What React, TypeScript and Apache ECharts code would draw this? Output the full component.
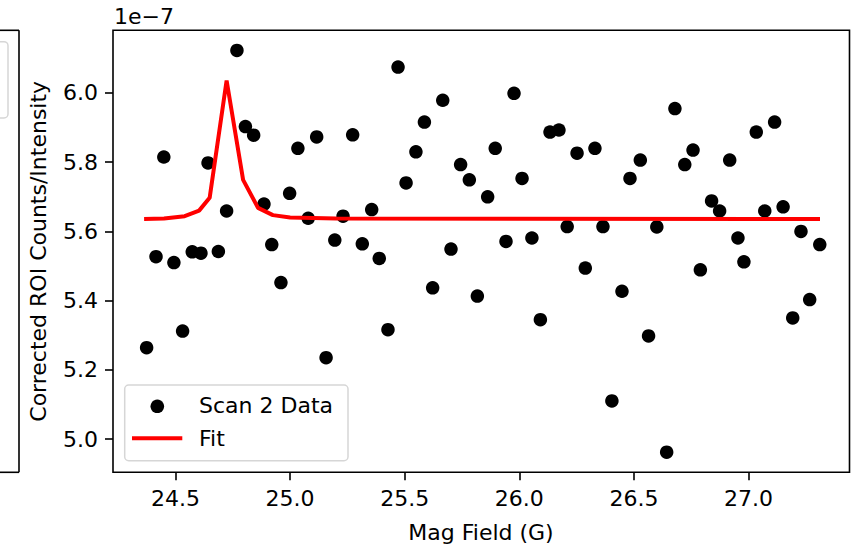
import React, { useEffect, useRef } from "react";
import * as echarts from "echarts";

// Scan 2 data, y in units of 1e-7
const SCAN_X = [
  24.374, 24.415, 24.449, 24.493, 24.531, 24.573, 24.611, 24.642, 24.687, 24.723,
  24.768, 24.805, 24.841, 24.886, 24.920, 24.960, 24.998, 25.034, 25.079, 25.116,
  25.157, 25.195, 25.231, 25.273, 25.315, 25.356, 25.389, 25.427, 25.471, 25.506,
  25.549, 25.586, 25.622, 25.666, 25.702, 25.744, 25.782, 25.817, 25.862, 25.895,
  25.942, 25.977, 26.012, 26.055, 26.092, 26.134, 26.173, 26.209, 26.252, 26.288,
  26.330, 26.365, 26.404, 26.448, 26.483, 26.528, 26.564, 26.600, 26.643, 26.679,
  26.722, 26.758, 26.790, 26.839, 26.874, 26.918, 26.954, 26.980, 27.034, 27.071,
  27.114, 27.151, 27.193, 27.229, 27.267, 27.311,
];
const SCAN_Y = [
  5.264, 5.527, 5.815, 5.510, 5.312, 5.541, 5.537, 5.798, 5.542, 5.659,
  6.123, 5.903, 5.878, 5.679, 5.562, 5.452, 5.710, 5.840, 5.638, 5.873,
  5.235, 5.575, 5.644, 5.879, 5.564, 5.663, 5.522, 5.316, 6.075, 5.740,
  5.830, 5.916, 5.437, 5.979, 5.549, 5.793, 5.749, 5.413, 5.700, 5.840,
  5.571, 5.999, 5.753, 5.581, 5.345, 5.887, 5.893, 5.614, 5.826, 5.494,
  5.840, 5.614, 5.110, 5.427, 5.753, 5.806, 5.298, 5.613, 4.962, 5.955,
  5.793, 5.835, 5.489, 5.688, 5.659, 5.806, 5.581, 5.512, 5.887, 5.659,
  5.916, 5.671, 5.350, 5.600, 5.403, 5.562,
];

// Fit curve vertices
const FIT_X = [24.363, 24.45, 24.54, 24.603, 24.649, 24.723, 24.795, 24.86, 24.925, 25.0, 25.2, 27.312];
const FIT_Y = [5.636, 5.637, 5.644, 5.660, 5.697, 6.036, 5.749, 5.668, 5.647, 5.640, 5.637, 5.636];

const X_TICKS = [24.5, 25.0, 25.5, 26.0, 26.5, 27.0];
const Y_TICKS = [5.0, 5.2, 5.4, 5.6, 5.8, 6.0];

const X_MIN = 24.2273;
const X_MAX = 27.4407;
const Y_MIN = 4.9038;
const Y_MAX = 6.1812;

const FONT = "DejaVu Sans";

export default function App() {
  const ref = useRef<HTMLDivElement>(null);

  useEffect(() => {
    if (!ref.current) return;
    const chart = echarts.init(ref.current, undefined, { renderer: "svg" });

    const scatterData = SCAN_X.map((x, i) => [x, SCAN_Y[i]]);
    const fitData = FIT_X.map((x, i) => [x, FIT_Y[i]]);

    chart.setOption({
      animation: false,
      backgroundColor: "#ffffff",
      grid: {
        left: 113,
        right: 1.5,
        top: 30.3,
        bottom: 74.7,
        show: true,
        borderColor: "#000",
        borderWidth: 1.6,
        backgroundColor: "transparent",
      },
      xAxis: {
        type: "value",
        min: X_MIN,
        max: X_MAX,
        splitLine: { show: false },
        axisLine: { show: false },
        axisTick: {
          show: true,
          customValues: X_TICKS,
          length: 8,
          lineStyle: { color: "#000", width: 1.6 },
        },
        axisLabel: {
          show: true,
          customValues: X_TICKS,
          margin: 15,
          color: "#000",
          fontFamily: FONT,
          fontSize: 22,
          formatter: (v: number) => v.toFixed(1),
        },
      },
      yAxis: {
        type: "value",
        min: Y_MIN,
        max: Y_MAX,
        splitLine: { show: false },
        axisLine: { show: false },
        axisTick: {
          show: true,
          customValues: Y_TICKS,
          length: 8,
          lineStyle: { color: "#000", width: 1.6 },
        },
        axisLabel: {
          show: true,
          customValues: Y_TICKS,
          margin: 15,
          color: "#000",
          fontFamily: FONT,
          fontSize: 22,
          formatter: (v: number) => v.toFixed(1),
        },
      },
      series: [
        {
          name: "Scan 2 Data",
          type: "scatter",
          data: scatterData,
          symbol: "circle",
          symbolSize: 13.5,
          itemStyle: { color: "#000", opacity: 1 },
          z: 2,
        },
        {
          name: "Fit",
          type: "line",
          data: fitData,
          showSymbol: false,
          symbol: "none",
          smooth: false,
          lineStyle: { color: "#ff0000", width: 4, opacity: 1 },
          z: 3,
        },
      ],
      graphic: [
        // partial neighbouring subplot on the left
        { type: "line", z: 1, shape: { x1: 19, y1: 30.3, x2: 19, y2: 472.3 }, style: { stroke: "#000", lineWidth: 1.6 } },
        { type: "line", z: 1, shape: { x1: 0, y1: 30.3, x2: 19, y2: 30.3 }, style: { stroke: "#000", lineWidth: 1.6 } },
        { type: "line", z: 1, shape: { x1: 0, y1: 472.3, x2: 19, y2: 472.3 }, style: { stroke: "#000", lineWidth: 1.6 } },
        {
          type: "rect", z: 1,
          shape: { x: -30, y: 41.7, width: 38, height: 76.3, r: 4 },
          style: { fill: "rgba(255,255,255,0.8)", stroke: "#d6d6d6", lineWidth: 1.5 },
        },
        // offset text
        {
          type: "text", z: 100, x: 114, y: 16,
          style: { text: "1e\u22127", font: `22px "${FONT}"`, fill: "#000", textAlign: "left", textVerticalAlign: "middle" },
        },
        // axis titles
        {
          type: "text", z: 100, x: 481, y: 532,
          style: { text: "Mag Field (G)", font: `22px "${FONT}"`, fill: "#000", textAlign: "center", textVerticalAlign: "middle" },
        },
        {
          type: "text", z: 100, x: 38, y: 251.3, rotation: Math.PI / 2,
          style: { text: "Corrected ROI Counts/Intensity", font: `22px "${FONT}"`, fill: "#000", textAlign: "center", textVerticalAlign: "middle" },
        },
        // legend
        {
          type: "rect", z: 100,
          shape: { x: 124.7, y: 385, width: 223.3, height: 75.7, r: 4 },
          style: { fill: "rgba(255,255,255,0.8)", stroke: "#d6d6d6", lineWidth: 1.5 },
        },
        { type: "circle", z: 101, shape: { cx: 157.3, cy: 406.3, r: 6.8 }, style: { fill: "#000" } },
        { type: "line", z: 101, shape: { x1: 132, y1: 438.3, x2: 182.3, y2: 438.3 }, style: { stroke: "#ff0000", lineWidth: 4 } },
        {
          type: "text", z: 101, x: 199, y: 405,
          style: { text: "Scan 2 Data", font: `22px "${FONT}"`, fill: "#000", textAlign: "left", textVerticalAlign: "middle" },
        },
        {
          type: "text", z: 101, x: 199, y: 438,
          style: { text: "Fit", font: `22px "${FONT}"`, fill: "#000", textAlign: "left", textVerticalAlign: "middle" },
        },
      ],
    });

    return () => chart.dispose();
  }, []);

  return (
    <div
      ref={ref}
      style={{ position: "fixed", left: 0, top: 0, width: 851, height: 547, background: "#fff" }}
    />
  );
}
